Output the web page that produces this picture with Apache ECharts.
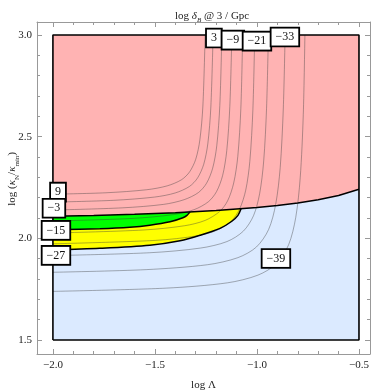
<!DOCTYPE html>
<html>
<head>
<meta charset="utf-8">
<script src="https://cdn.jsdelivr.net/npm/echarts@6/dist/echarts.min.js"></script>
<style>
  html, body { margin: 0; padding: 0; background: #fff; }
  #chart { width: 374px; height: 392px; }
</style>
</head>
<body>
<div id="chart"></div>
<script>
// tick positions
var xMajor = [-2, -1.5, -1, -0.5];
var xMinor = [-1.9, -1.8, -1.7, -1.6, -1.4, -1.3, -1.2, -1.1, -0.9, -0.8, -0.7, -0.6];
var yMajor = [1.5, 2, 2.5, 3];
var yMinor = [1.6, 1.7, 1.8, 1.9, 2.1, 2.2, 2.3, 2.4, 2.6, 2.7, 2.8, 2.9];

// region boundaries
var boundary = [[-2, 2.108], [-1.8, 2.112], [-1.6, 2.118], [-1.4, 2.126], [-1.2, 2.137], [-1.0, 2.152], [-0.9, 2.162], [-0.8, 2.174], [-0.7, 2.190], [-0.6, 2.211], [-0.5, 2.241]];
var greenBottom = [[-2, 2.042], [-1.770, 2.047], [-1.623, 2.054], [-1.525, 2.064], [-1.426, 2.081], [-1.363, 2.101], [-1.343, 2.113], [-1.328, 2.130]];
var yellowBottom = [[-2, 1.943], [-1.770, 1.951], [-1.525, 1.966], [-1.377, 1.988], [-1.279, 2.015], [-1.181, 2.049], [-1.123, 2.084], [-1.093, 2.113], [-1.078, 2.145]];

// contour lines
var c9 = [[-2, 2.217], [-1.74, 2.224], [-1.54, 2.239], [-1.44, 2.258], [-1.37, 2.288], [-1.33, 2.327], [-1.30, 2.389], [-1.28, 2.483], [-1.265, 2.651], [-1.254, 3.0]];
var c3 = [[-2, 2.178], [-1.701, 2.187], [-1.501, 2.203], [-1.401, 2.223], [-1.331, 2.255], [-1.291, 2.297], [-1.261, 2.364], [-1.241, 2.464], [-1.226, 2.646], [-1.215, 3.0]];
var cm3 = [[-2, 2.139], [-1.657, 2.150], [-1.457, 2.167], [-1.357, 2.190], [-1.287, 2.225], [-1.247, 2.271], [-1.217, 2.345], [-1.197, 2.455], [-1.182, 2.654], [-1.172, 3.0]];
var cm9 = [[-2, 2.085], [-1.608, 2.098], [-1.408, 2.117], [-1.308, 2.141], [-1.238, 2.180], [-1.198, 2.230], [-1.168, 2.310], [-1.148, 2.431], [-1.133, 2.649], [-1.123, 3.0]];
var cm15 = [[-2, 2.026], [-1.554, 2.041], [-1.354, 2.062], [-1.254, 2.088], [-1.184, 2.131], [-1.144, 2.184], [-1.114, 2.272], [-1.094, 2.402], [-1.079, 2.638], [-1.070, 3.0]];
var cm21 = [[-2, 1.973], [-1.495, 1.990], [-1.295, 2.012], [-1.195, 2.040], [-1.125, 2.086], [-1.085, 2.144], [-1.055, 2.237], [-1.035, 2.378], [-1.020, 2.632], [-1.011, 3.0]];
var cm27 = [[-2, 1.915], [-1.527, 1.929], [-1.277, 1.952], [-1.147, 1.984], [-1.067, 2.035], [-1.017, 2.111], [-0.987, 2.219], [-0.967, 2.380], [-0.953, 2.640], [-0.944, 3.0]];
var cm33 = [[-2, 1.833], [-1.543, 1.846], [-1.243, 1.870], [-1.093, 1.905], [-1.003, 1.957], [-0.943, 2.043], [-0.908, 2.168], [-0.886, 2.349], [-0.871, 2.636], [-0.862, 3.0]];
var cm39 = [[-2, 1.739], [-1.445, 1.755], [-1.145, 1.781], [-0.995, 1.819], [-0.905, 1.875], [-0.845, 1.968], [-0.810, 2.102], [-0.788, 2.298], [-0.773, 2.608], [-0.765, 3.0]];

// contour labels
var labelTexts = ['9', '−3', '−15', '−27', '3', '−9', '−21', '−33', '−39'];
var labelPoints = [[-1.975, 2.227], [-1.995, 2.148], [-1.985, 2.039], [-1.985, 1.916], [-1.211, 2.985], [-1.118, 2.975], [-1.0, 2.970], [-0.863, 2.990], [-0.907, 1.901]];

var FONT = '"Liberation Serif", "DejaVu Serif", serif';

var pink = boundary.concat([[-0.5, 3], [-2, 3]]);
var blue = boundary.concat([[-0.5, 1.5], [-2, 1.5]]);
var yTip = yellowBottom[yellowBottom.length - 1][0];
var gTip = greenBottom[greenBottom.length - 1][0];
var yellow = yellowBottom.concat(boundary.filter(function (p) { return p[0] < yTip; }).reverse());
var green = greenBottom.concat(boundary.filter(function (p) { return p[0] < gTip; }).reverse());
var frame = [[-2, 1.5], [-0.5, 1.5], [-0.5, 3], [-2, 3], [-2, 1.5]];

function polySeries(points, color, z) {
	return {
		type: 'custom',
		coordinateSystem: 'cartesian2d',
		silent: true,
		z: z,
		data: [points[0]],
		renderItem: function (params, api) {
			return {
				type: 'polygon',
				shape: { points: points.map(function (p) { return api.coord(p); }) },
				style: { fill: color }
			};
		}
	};
}

function lineSeries(points, color, width, z, smooth) {
	return {
		type: 'line',
		data: points,
		symbol: 'none',
		silent: true,
		z: z,
		lineStyle: { color: color, width: width },
		smooth: smooth
	};
}

function fmt(v) {
	return (v < 0 ? '−' : '') + Math.abs(v).toFixed(1);
}

function xAx(pos, ticks, len, labels, line) {
	return {
		type: 'value', position: pos, min: -2.078, max: -0.446,
		axisLine: { show: line, onZero: false, lineStyle: { color: '#999', width: 1 } },
		axisTick: { show: true, inside: true, length: len, customValues: ticks, lineStyle: { color: '#999' } },
		axisLabel: { show: labels, customValues: xMajor, formatter: fmt, color: '#222', fontFamily: FONT, fontSize: 11, margin: 6 },
		splitLine: { show: false }
	};
}

function yAx(pos, ticks, len, labels, line) {
	return {
		type: 'value', position: pos, min: 1.431, max: 3.064,
		axisLine: { show: line, onZero: false, lineStyle: { color: '#999', width: 1 } },
		axisTick: { show: true, inside: true, length: len, customValues: ticks, lineStyle: { color: '#999' } },
		axisLabel: { show: labels, customValues: yMajor, formatter: function (v) { return v.toFixed(1); }, color: '#222', fontFamily: FONT, fontSize: 11, margin: 5 },
		splitLine: { show: false }
	};
}

var rich = {
	n: { fontFamily: FONT, fontSize: 11, fontWeight: 'normal', color: '#222', lineHeight: 16 },
	i: { fontFamily: FONT, fontSize: 11, fontWeight: 'normal', fontStyle: 'italic', color: '#222', lineHeight: 16 },
	s: { fontFamily: FONT, fontSize: 7, fontWeight: 'normal', color: '#222', verticalAlign: 'bottom', lineHeight: 12 },
	si: { fontFamily: FONT, fontSize: 7, fontWeight: 'normal', fontStyle: 'italic', color: '#222', verticalAlign: 'bottom', lineHeight: 12 }
};

var xMain = xAx('bottom', xMajor, 5, true, true);
xMain.name = 'log Λ';
xMain.nameLocation = 'middle';
xMain.nameGap = 26;
xMain.nameTextStyle = { fontFamily: FONT, fontSize: 11, color: '#222' };

var series = [
	polySeries(pink, '#ffb3b3', 1),
	polySeries(blue, '#dbeaff', 1),
	polySeries(yellow, '#ffff00', 2),
	polySeries(green, '#00ff00', 3)
];
[c9, c3, cm3, cm9, cm15, cm21, cm27, cm33, cm39].forEach(function (c) {
	series.push(lineSeries(c, 'rgba(60,60,60,0.45)', 0.9, 4, 0.3));
});
series.push(lineSeries(greenBottom, '#000', 1.5, 5, 0.3));
series.push(lineSeries(yellowBottom, '#000', 1.5, 5, 0.3));
series.push(lineSeries(boundary, '#000', 1.5, 5, false));
series.push(lineSeries(frame, '#000', 1.6, 6, false));
series.push({
	type: 'scatter',
	symbolSize: 0,
	silent: true,
	z: 10,
	itemStyle: { opacity: 1 },
	data: labelPoints.map(function (p, i) { return { value: p, name: labelTexts[i] }; }),
	label: {
		show: true,
		position: 'inside',
		formatter: '{b}',
		opacity: 1,
		fontFamily: FONT,
		fontSize: 12,
		color: '#111',
		backgroundColor: '#ffffff',
		borderColor: '#000',
		borderWidth: 1.8,
		padding: [3, 4, 2, 4]
	}
});

var chart = echarts.init(document.getElementById('chart'));
chart.setOption({
	animation: false,
	title: {
		text: '{n|log }{i|δ}{si|B}{n| @ 3 / Gpc}',
		left: 170,
		top: 3,
		textStyle: { fontWeight: 'normal', rich: rich }
	},
	grid: { left: 37, right: 4, top: 22, bottom: 38, containLabel: false, outerBoundsMode: 'none' },
	xAxis: [xMain, xAx('bottom', xMinor, 3, false, false), xAx('top', xMajor, 5, false, true), xAx('top', xMinor, 3, false, false)],
	yAxis: [yAx('left', yMajor, 5, true, true), yAx('left', yMinor, 3, false, false), yAx('right', yMajor, 5, false, true), yAx('right', yMinor, 3, false, false)],
	graphic: [{
		type: 'text',
		left: 7,
		top: 152,
		rotation: Math.PI / 2,
		originX: 0,
		originY: 0,
		silent: true,
		style: {
			text: '{n|log (}{i|κ}{s|N}{n|/}{i|κ}{s|min}{n|)}',
			rich: rich,
			fill: '#222'
		}
	}],
	series: series
});
</script>
</body>
</html>
